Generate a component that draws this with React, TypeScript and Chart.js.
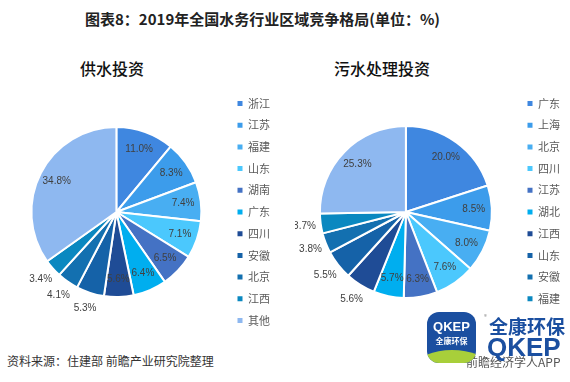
import React, { useEffect, useRef } from 'react';
import { Chart, registerables } from 'chart.js';

Chart.register(...registerables);

const supplyRegions = ['浙江', '江苏', '福建', '山东', '湖南', '广东', '四川', '安徽', '北京', '江西', '其他'];
const supplyShares = [11.0, 8.3, 7.4, 7.1, 6.5, 6.4, 5.6, 5.3, 4.1, 3.4, 34.8];

const sewageRegions = ['广东', '上海', '北京', '四川', '江苏', '湖北', '江西', '山东', '安徽', '福建', '其他'];
const sewageShares = [20.0, 8.5, 8.0, 7.6, 6.3, 5.7, 5.6, 5.5, 3.8, 3.7, 25.3];

const sliceColors = [
  '#3F87E0', '#3C9CEB', '#48AEF2', '#4BC8FD', '#4472C4', '#00AEEF',
  '#1F4C96', '#1562A8', '#1370B0', '#0A88C0', '#8EB8F0',
];

const CJK = '"Noto Sans CJK SC", "Noto Sans", sans-serif';

const sliceLabelPlugin = {
  id: 'sliceLabels',
  afterDatasetsDraw(chart: any) {
    const ctx = chart.ctx;
    const meta = chart.getDatasetMeta(0);
    const values = chart.data.datasets[0].data as number[];
    ctx.save();
    ctx.font = '10px "Liberation Sans", Arial, sans-serif';
    ctx.fillStyle = '#404040';
    ctx.textAlign = 'center';
    ctx.textBaseline = 'middle';
    meta.data.forEach((arc: any, i: number) => {
      const p = arc.getProps(['x', 'y', 'startAngle', 'endAngle', 'outerRadius'], true);
      const mid = (p.startAngle + p.endAngle) / 2;
      let deg = (mid * 180) / Math.PI % 360;
      if (deg < 0) deg += 360;
      const outside = values[i] < 6 && deg > 105 && deg < 180;
      const r = p.outerRadius * (outside ? 1.19 : 0.79);
      ctx.fillText(values[i].toFixed(1) + '%', p.x + Math.cos(mid) * r, p.y + Math.sin(mid) * r);
    });
    ctx.restore();
  },
};

function PieChart({ labels, values, radius, left, width }: { labels: string[]; values: number[]; radius: number; left: number; width: number }) {
  const ref = useRef<HTMLCanvasElement | null>(null);
  useEffect(() => {
    if (!ref.current) return;
    const baseGen = (Chart as any).overrides.doughnut.plugins.legend.labels.generateLabels;
    const chart = new Chart(ref.current, {
      type: 'pie',
      data: {
        labels,
        datasets: [
          {
            data: values,
            backgroundColor: sliceColors,
            borderColor: '#ffffff',
            borderWidth: 2,
          },
        ],
      },
      options: {
        animation: false,
        responsive: false,
        maintainAspectRatio: false,
        radius,
        layout: { padding: 0 },
        plugins: {
          tooltip: { enabled: false },
          legend: {
            position: 'right',
            labels: {
              boxWidth: 5,
              boxHeight: 5,
              padding: 10.7,
              color: '#595959',
              font: { size: 11, family: CJK },
              generateLabels: (c: any) => baseGen(c).map((l: any) => ({ ...l, lineWidth: 0 })),
            },
          },
        },
      } as any,
      plugins: [sliceLabelPlugin],
    });
    return () => chart.destroy();
  }, []);
  return (
    <canvas
      ref={ref}
      width={width}
      height={256}
      style={{ position: 'absolute', left, top: 84, width, height: 256 }}
    />
  );
}

export default function App() {
  return (
    <div
      style={{
        position: 'fixed',
        left: 0,
        top: 0,
        width: 570,
        height: 382,
        overflow: 'hidden',
        background: '#ffffff',
        fontFamily: CJK,
      }}
    >
      <div
        style={{
          position: 'absolute',
          left: 85,
          top: 9,
          fontSize: 15,
          fontWeight: 'bold',
          lineHeight: '20px',
          color: '#222',
          whiteSpace: 'nowrap',
        }}
      >
        图表8：2019年全国水务行业区域竞争格局(单位：%)
      </div>
      <div style={{ position: 'absolute', left: 52, top: 58, width: 120, textAlign: 'center', fontSize: 16, fontWeight: 500, lineHeight: '20px', color: '#111' }}>
        供水投资
      </div>
      <div style={{ position: 'absolute', left: 322, top: 58, width: 120, textAlign: 'center', fontSize: 16, fontWeight: 500, lineHeight: '20px', color: '#111' }}>
        污水处理投资
      </div>

      <PieChart labels={supplyRegions} values={supplyShares} radius={85} left={6} width={274} />
      <PieChart labels={sewageRegions} values={sewageShares} radius={86} left={295} width={275} />

      <div style={{ position: 'absolute', left: 7, top: 352, fontSize: 12, lineHeight: '18px', color: '#333', whiteSpace: 'nowrap' }}>
        资料来源：住建部 前瞻产业研究院整理
      </div>

      <div style={{ position: 'absolute', left: 466, top: 355, fontSize: 12, lineHeight: '14px', color: '#555', whiteSpace: 'nowrap' }}>
        前瞻经济学人APP
      </div>
      <div style={{ position: 'absolute', left: 484, top: 312, width: 86, height: 26, background: '#fff' }} />
      <div
        style={{
          position: 'absolute',
          left: 427,
          top: 312,
          width: 49,
          height: 51,
          borderRadius: 12,
          overflow: 'hidden',
          background: '#1B4FA0',
        }}
      >
        <div style={{ position: 'absolute', left: -10, top: 38, width: 70, height: 30, borderRadius: '50%', background: '#A8CF3A' }} />
        <div style={{ position: 'absolute', left: 0, top: 8, width: 49, textAlign: 'center', color: '#fff', fontFamily: '"Liberation Sans", Arial, sans-serif', fontWeight: 'bold', fontSize: 13, lineHeight: '14px' }}>
          QKEP
        </div>
        <div style={{ position: 'absolute', left: 0, top: 24, width: 49, textAlign: 'center', color: '#fff', fontWeight: 'bold', fontSize: 8, lineHeight: '10px' }}>
          全康环保
        </div>
      </div>
      <div style={{ position: 'absolute', left: 484, top: 314, fontSize: 6, color: '#888', lineHeight: '6px' }}>®</div>
      <div style={{ position: 'absolute', left: 489, top: 314, fontSize: 19, fontWeight: 'bold', color: '#1B4FA0', lineHeight: '24px', whiteSpace: 'nowrap' }}>
        全康环保
      </div>
      <div
        style={{
          position: 'absolute',
          left: 487,
          top: 333,
          fontSize: 26,
          fontWeight: 'bold',
          color: '#1B4FA0',
          lineHeight: '28px',
          fontFamily: '"Liberation Sans", Arial, sans-serif',
          whiteSpace: 'nowrap',
        }}
      >
        QKEP
      </div>
    </div>
  );
}
